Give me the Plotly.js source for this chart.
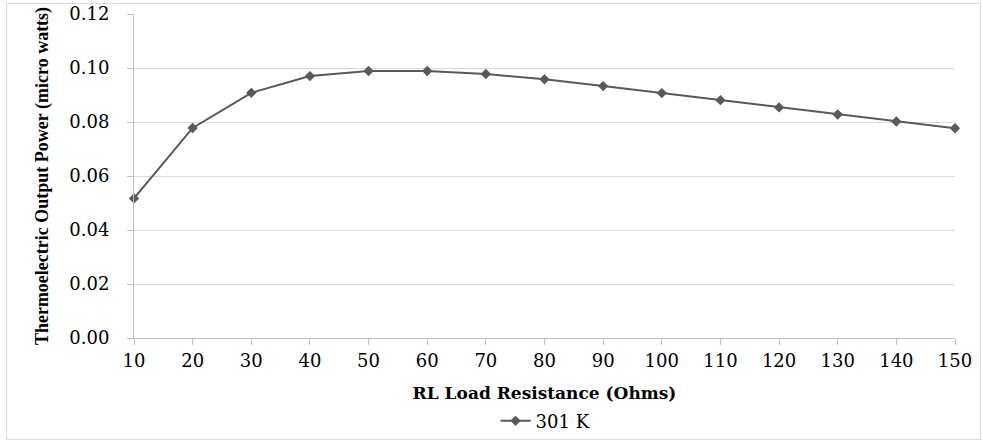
<!DOCTYPE html>
<html>
<head>
<meta charset="utf-8">
<script src="https://cdn.plot.ly/plotly-3.0.1.min.js"></script>
<style>
  html, body { margin: 0; padding: 0; background: #fff; }
  #wrap { position: relative; width: 983px; height: 441px; }
  #chart { width: 983px; height: 441px; }
  #frame { position: absolute; left: 6px; top: 3px; width: 973px; height: 435px; border: 1px solid #d9d9d9; pointer-events: none; }
</style>
</head>
<body>
<div id="wrap">
  <div id="chart"></div>
  <div id="frame"></div>
</div>
<script>
const resistance = [10, 20, 30, 40, 50, 60, 70, 80, 90, 100, 110, 120, 130, 140, 150];
const power301K = [0.0517, 0.0778, 0.0908, 0.0970, 0.0989, 0.0989, 0.0978, 0.0958, 0.0933, 0.0907, 0.0881, 0.0854, 0.0828, 0.0802, 0.0777];
const seriesName = "301 K";
const xTitle = "RL Load Resistance (Ohms)";
const yTitle = "Thermoelectric Output Power (micro watts)";
const yTickVals = [0, 0.02, 0.04, 0.06, 0.08, 0.10, 0.12];

const trace = {
  x: resistance,
  y: power301K,
  name: seriesName,
  type: "scatter",
  mode: "lines+markers",
  line: { color: "#595959", width: 2 },
  marker: { symbol: "diamond", size: 8, color: "#595959" },
  cliponaxis: false,
  showlegend: true
};

const layout = {
  width: 983,
  height: 441,
  margin: { l: 134, r: 28, t: 14, b: 103, autoexpand: false },
  paper_bgcolor: "#ffffff",
  plot_bgcolor: "#ffffff",
  font: { family: "DejaVu Serif, serif", color: "#000000", size: 18 },
  showlegend: true,
  legend: {
    orientation: "h",
    xref: "container", yref: "container",
    x: 0.555, xanchor: "center",
    y: 0.045, yanchor: "middle",
    font: { family: "DejaVu Serif, serif", size: 18, color: "#000" },
    bgcolor: "rgba(0,0,0,0)"
  },
  xaxis: {
    range: [10, 150],
    tickvals: resistance,
    ticktext: resistance.map(String),
    showgrid: false,
    zeroline: false,
    showline: true,
    linecolor: "#bfbfbf",
    linewidth: 1,
    ticks: "outside",
    ticklen: 6,
    tickcolor: "#bfbfbf",
    tickfont: { family: "DejaVu Serif, serif", size: 18, color: "#000" },
    title: { text: xTitle, standoff: 18, font: { family: "DejaVu Serif, serif", size: 17, color: "#000", weight: "bold" } }
  },
  yaxis: {
    range: [0, 0.12],
    tickvals: yTickVals,
    tickformat: ".2f",
    showgrid: true,
    gridcolor: "#d9d9d9",
    gridwidth: 1,
    zeroline: false,
    showline: true,
    linecolor: "#bfbfbf",
    linewidth: 1,
    ticks: "outside",
    ticklen: 6,
    tickcolor: "#bfbfbf",
    ticklabelstandoff: 14,
    tickfont: { family: "DejaVu Serif, serif", size: 18, color: "#000" },
    title: { text: yTitle, standoff: 16, font: { family: "Liberation Serif, serif", size: 18, color: "#000", weight: "bold" } }
  }
};

Plotly.newPlot("chart", [trace], layout, { displayModeBar: false, staticPlot: true });
</script>
</body>
</html>
